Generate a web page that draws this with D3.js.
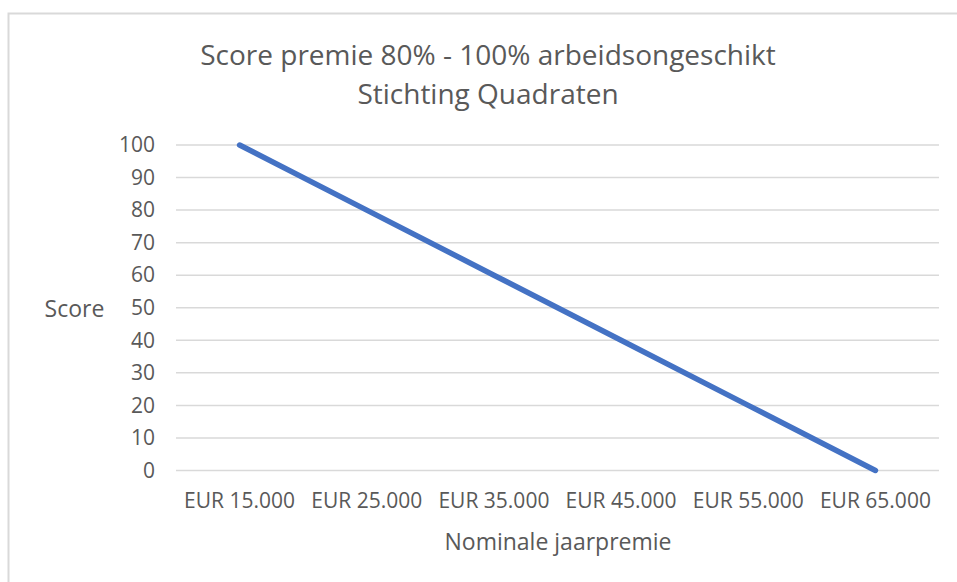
<!DOCTYPE html>
<html>
<head>
<meta charset="utf-8">
<script src="https://cdn.jsdelivr.net/npm/d3@7"></script>
<style>
  body { margin: 0; background: #fff; }
  svg text { font-family: "Open Sans", sans-serif; fill: #595959; }
</style>
</head>
<body>
<svg width="957" height="582"></svg>
<script>
"use strict";

let categories = ["EUR 15.000", "EUR 25.000", "EUR 35.000", "EUR 45.000", "EUR 55.000", "EUR 65.000"];
let scores = [100, 80, 60, 40, 20, 0];
let yTicks = [0, 10, 20, 30, 40, 50, 60, 70, 80, 90, 100];
let titleLines = ["Score premie 80% - 100% arbeidsongeschikt", "Stichting Quadraten"];

let svg = d3.select("svg");

// chart frame (cropped on right and bottom like the reference)
svg.append("rect")
  .attr("x", 8.5).attr("y", 13.5)
  .attr("width", 990).attr("height", 600)
  .attr("fill", "#fff")
  .attr("stroke", "#d9d9d9")
  .attr("stroke-width", 2);

let plotLeft = 176, plotRight = 939, plotTop = 145, plotBottom = 470.5;

let x = d3.scaleBand().domain(categories).range([plotLeft, plotRight]);
let y = d3.scaleLinear().domain([0, 100]).range([plotBottom, plotTop]);

// gridlines
svg.append("g")
  .selectAll("line")
  .data(yTicks)
  .join("line")
  .attr("x1", plotLeft).attr("x2", plotRight)
  .attr("y1", d => y(d)).attr("y2", d => y(d))
  .attr("stroke", "#d9d9d9")
  .attr("stroke-width", 1.5);

// y axis labels
let yAxis = svg.append("g")
  .attr("transform", "translate(" + (plotLeft - 21) + ",0)")
  .call(d3.axisLeft(y).tickValues(yTicks).tickSize(0).tickPadding(0));
yAxis.select(".domain").remove();
yAxis.selectAll("text")
  .attr("font-size", 21)
  .attr("font-family", "Open Sans, sans-serif")
  .attr("fill", "#595959");

// x axis labels
let xAxis = svg.append("g")
  .attr("transform", "translate(0," + plotBottom + ")")
  .call(d3.axisBottom(x).tickSize(0).tickPadding(23));
xAxis.select(".domain").remove();
xAxis.selectAll("text")
  .attr("font-size", 21)
  .attr("font-family", "Open Sans, sans-serif")
  .attr("fill", "#595959");

// the line
let line = d3.line()
  .x((d, i) => x(categories[i]) + x.bandwidth() / 2)
  .y(d => y(d));

svg.append("path")
  .datum(scores)
  .attr("d", line)
  .attr("fill", "none")
  .attr("stroke", "#4472c4")
  .attr("stroke-width", 5.5)
  .attr("stroke-linecap", "round");

// title
svg.append("text")
  .attr("text-anchor", "middle")
  .attr("font-size", 28)
  .selectAll("tspan")
  .data(titleLines)
  .join("tspan")
  .attr("x", 488)
  .attr("y", (d, i) => 65 + i * 38.5)
  .text(d => d);

// axis titles
svg.append("text")
  .attr("x", 74.5).attr("y", 317)
  .attr("text-anchor", "middle")
  .attr("font-size", 23)
  .text("Score");

svg.append("text")
  .attr("x", 558).attr("y", 550)
  .attr("text-anchor", "middle")
  .attr("font-size", 23)
  .text("Nominale jaarpremie");
</script>
</body>
</html>
